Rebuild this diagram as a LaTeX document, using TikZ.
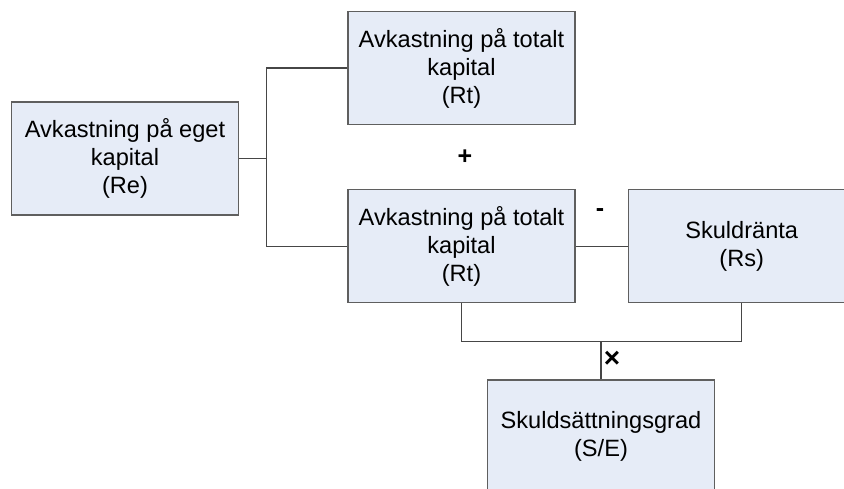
\documentclass[tikz,border=0pt]{standalone}
\usepackage{fontspec}
\setmainfont{Liberation Sans}
\usetikzlibrary{positioning}
\definecolor{boxfill}{RGB}{230,236,247}
\definecolor{boxline}{RGB}{95,95,95}
\definecolor{linkcolor}{RGB}{70,70,70}
\tikzset{
  kbox/.style={
    rectangle, draw=boxline, fill=boxfill, line width=1.2pt,
    minimum width=227pt, minimum height=113pt, inner sep=0pt,
    align=center, font=\fontsize{23.6}{28}\selectfont
  },
  link/.style={draw=linkcolor, line width=1.2pt},
  opsign/.style={font=\fontsize{25}{28}\selectfont\bfseries}
}

\begin{document}
\begin{tikzpicture}[x=1pt, y=-1pt, node distance=64pt]
  \clip (0,0) rectangle (844,489);

  % -- boxes --
  \node[kbox] (re) at (125,158.5) {Avkastning på eget\\kapital\\(Re)};
  \node[kbox] (rt1) at (461.5,68) {Avkastning på totalt\\kapital\\(Rt)};
  \node[kbox, below=of rt1] (rt2) {Avkastning på totalt\\kapital\\(Rt)};
  \node[kbox, right=52pt of rt2] (rs) {Skuldränta\\(Rs)};
  \node[kbox] (se) at (601,436.5) {Skuldsättningsgrad\\(S/E)};

  % -- connectors --
  \draw[link] (rt1.west) -- ++(-81,0) coordinate (fork) |- (rt2.west);
  \draw[link] (re.east) -- (re.east -| fork);
  \draw[link] (rt2.east) -- (rs.west);
  \draw[link] (rt2.south) -- ++(0,38) coordinate (lowleft) -| (rs.south);
  \draw[link] (se.north) -- (se.north |- lowleft);

  % -- operators --
  \node[opsign] (plus) at (465,157) {+};
  \node[opsign] (minus) at (600,213) {-};
  \node[opsign, font=\fontsize{28}{28}\selectfont\bfseries] (times) at (612,359) {×};
\end{tikzpicture}
\end{document}
